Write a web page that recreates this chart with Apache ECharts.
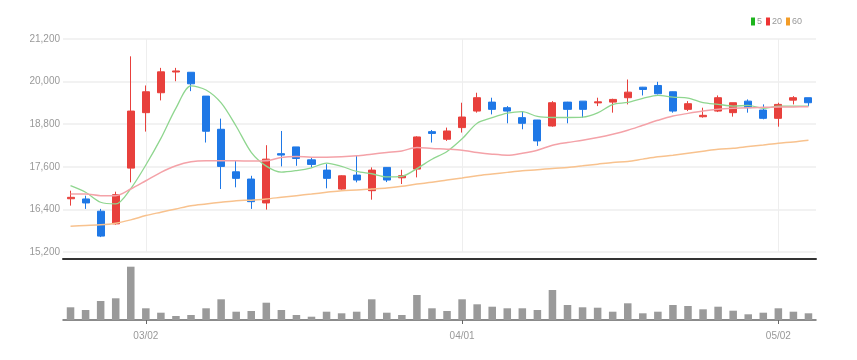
<!DOCTYPE html>
<html>
<head>
<meta charset="utf-8">
<script src="https://cdn.jsdelivr.net/npm/echarts@6/dist/echarts.min.js"></script>
<style>
html,body{margin:0;padding:0;background:#fff;}
#chart{width:857px;height:360px;}
</style>
</head>
<body>
<div id="chart"></div>
<script>
// Trading days (2022)
const dates = ['02/22','02/23','02/24','02/25','02/28',
  '03/02','03/03','03/04','03/07','03/08','03/10','03/11','03/14','03/15','03/16','03/17','03/18','03/21','03/22','03/23','03/24','03/25','03/28','03/29','03/30','03/31',
  '04/01','04/04','04/05','04/06','04/07','04/08','04/11','04/12','04/13','04/14','04/15','04/18','04/19','04/20','04/21','04/22','04/25','04/26','04/27','04/28','04/29',
  '05/02','05/03','05/04'];
const tickLabels = ['03/02','04/01','05/02'];

const opens  = [16700,16694,16349,15993,17563,19125,19686,20270,20263,19591,18657,17459,17255,16582,17970,18160,17796,17507,16974,17367,16927,17583,17290,17535,18590,18376,18704,19170,19422,19265,18985,18918,18749,19422,19450,19400,19422,19546,19843,19891,19714,19218,19010,19170,19125,19450,19198,18965,19478,19546];
const closes = [16740,16582,15648,16815,19170,19714,20275,20300,19938,18601,17611,17274,16618,17816,17930,17835,17667,17274,17347,17227,17507,17227,17350,18441,18540,18609,19002,19546,19218,19170,18825,18329,19405,19218,19218,19430,19498,19703,19778,19658,19170,19377,19050,19546,19405,19265,18965,19358,19546,19405];
const lows   = [16506,16414,15620,15973,17162,18592,19470,20011,19731,18284,16974,17022,16414,16394,17611,17628,17583,16994,16960,17162,16674,17170,17115,17302,18284,18329,18564,19125,19077,18825,18657,18189,18730,18825,18985,19310,19125,19358,19610,19638,19125,19170,18985,19142,19013,19125,18937,18730,19358,19310];
const highs  = [16927,16786,16414,16899,20712,19891,20387,20387,20263,19591,18957,17768,17347,18208,18609,18160,17863,17675,17360,17908,17583,17590,17516,18460,18637,18704,19405,19686,19546,19310,19170,18920,19450,19430,19450,19546,19518,20059,19850,19994,19720,19450,19265,19610,19405,19498,19358,19405,19591,19546];
const volumes = [127000,100000,190000,217000,533000,117000,73000,40000,50000,117000,207000,83000,90000,173000,100000,50000,33000,83000,67000,83000,207000,73000,50000,250000,117000,90000,207000,157000,133000,117000,117000,100000,300000,150000,127000,123000,83000,167000,67000,83000,150000,140000,107000,133000,93000,57000,73000,117000,83000,67000];
const ma5  = [17067,16882,16601,16554,16987,17650,18400,19253,19878,19764,19400,18743,18008,17620,17450,17495,17573,17704,17611,17470,17404,17316,17332,17550,17813,18033,18388,18828,18983,19109,19152,19018,18989,18989,18999,19120,19354,19413,19525,19613,19561,19537,19407,19360,19310,19329,19246,19308,19308,19308];
const ma20 = [16834,16834,16787,16787,16974,17207,17443,17628,17740,17768,17768,17768,17760,17768,17863,17891,17870,17870,17880,17908,17956,18003,18048,18143,18115,18096,18068,18003,17956,17928,17984,18068,18208,18284,18348,18424,18517,18629,18769,18909,19030,19105,19170,19218,19246,19265,19274,19282,19288,19293];
const ma60 = [15928,15947,15965,16012,16105,16226,16321,16414,16506,16554,16601,16647,16660,16694,16741,16787,16834,16882,16927,16946,16974,17002,17050,17114,17162,17227,17283,17347,17395,17443,17488,17516,17555,17583,17628,17675,17723,17750,17816,17880,17928,17984,18040,18096,18124,18172,18217,18264,18301,18348];
const yTicks = [15200,16400,17600,18800,20000,21200];

const candles = dates.map((d, i) => [opens[i], closes[i], lows[i], highs[i]]);
const showTick = (idx, val) => tickLabels.indexOf(val) >= 0;
const FONT = '"Liberation Sans Narrow", "Liberation Sans", Arial, sans-serif';

const chart = echarts.init(document.getElementById('chart'), null, {renderer: 'canvas'});
chart.setOption({
  animation: false,
  backgroundColor: '#fff',
  legend: {
    right: 55, top: 17, padding: 0,
    icon: 'rect', itemWidth: 4, itemHeight: 8, itemGap: 4,
    textStyle: {fontSize: 9, color: '#999', fontFamily: FONT, padding: [0, 0, 0, -3]},
    data: [
      {name: '5', itemStyle: {color: '#1db41d'}},
      {name: '20', itemStyle: {color: '#ee3333'}},
      {name: '60', itemStyle: {color: '#f39c26'}}
    ]
  },
  grid: [
    {left: 63, right: 41, top: 39, height: 213},
    {left: 63, right: 41, top: 262, height: 58}
  ],
  xAxis: [
    {
      type: 'category', gridIndex: 0, data: dates, boundaryGap: true,
      offset: 7,
      axisLine: {show: true, lineStyle: {color: '#333', width: 2}},
      axisTick: {show: false},
      axisLabel: {show: false},
      splitLine: {show: true, interval: showTick, alignWithLabel: true, lineStyle: {color: '#eee', width: 1}}
    },
    {
      type: 'category', gridIndex: 1, data: dates, boundaryGap: true,
      axisLine: {show: true, lineStyle: {color: '#666', width: 1.5}},
      axisTick: {show: true, interval: showTick, alignWithLabel: true, length: 4, lineStyle: {color: '#666'}},
      axisLabel: {show: true, interval: showTick, fontSize: 10, color: '#999', fontFamily: FONT, margin: 11},
      splitLine: {show: false}
    }
  ],
  yAxis: [
    {
      type: 'value', gridIndex: 0, min: yTicks[0], max: yTicks[yTicks.length - 1], interval: 1200,
      axisLine: {show: false}, axisTick: {show: false},
      axisLabel: {fontSize: 10, color: '#999', fontFamily: FONT, margin: 3,
        formatter: v => v.toLocaleString('en-US')},
      splitLine: {show: true, lineStyle: {color: '#eee', width: 1.5}}
    },
    {
      type: 'value', gridIndex: 1, min: 0, max: 580000,
      axisLine: {show: false}, axisTick: {show: false}, axisLabel: {show: false},
      splitLine: {show: false}
    }
  ],
  series: [
    {
      type: 'candlestick', name: 'price', xAxisIndex: 0, yAxisIndex: 0,
      data: candles, barWidth: '50%',
      itemStyle: {color: '#e8403c', color0: '#1f78e6', borderColor: '#e8403c', borderColor0: '#1f78e6', borderWidth: 1}
    },
    {
      type: 'line', name: '5', xAxisIndex: 0, yAxisIndex: 0, data: ma5,
      smooth: 0.3, symbol: 'none', lineStyle: {color: '#8fd68f', width: 1.3}
    },
    {
      type: 'line', name: '20', xAxisIndex: 0, yAxisIndex: 0, data: ma20,
      smooth: 0.3, symbol: 'none', lineStyle: {color: '#f4a2a8', width: 1.5}
    },
    {
      type: 'line', name: '60', xAxisIndex: 0, yAxisIndex: 0, data: ma60,
      smooth: 0.3, symbol: 'none', lineStyle: {color: '#f8c28e', width: 1.5}
    },
    {
      type: 'bar', name: 'volume', xAxisIndex: 1, yAxisIndex: 1, data: volumes,
      barWidth: '50%', itemStyle: {color: '#9a9a9a'}
    }
  ]
});
</script>
</body>
</html>
